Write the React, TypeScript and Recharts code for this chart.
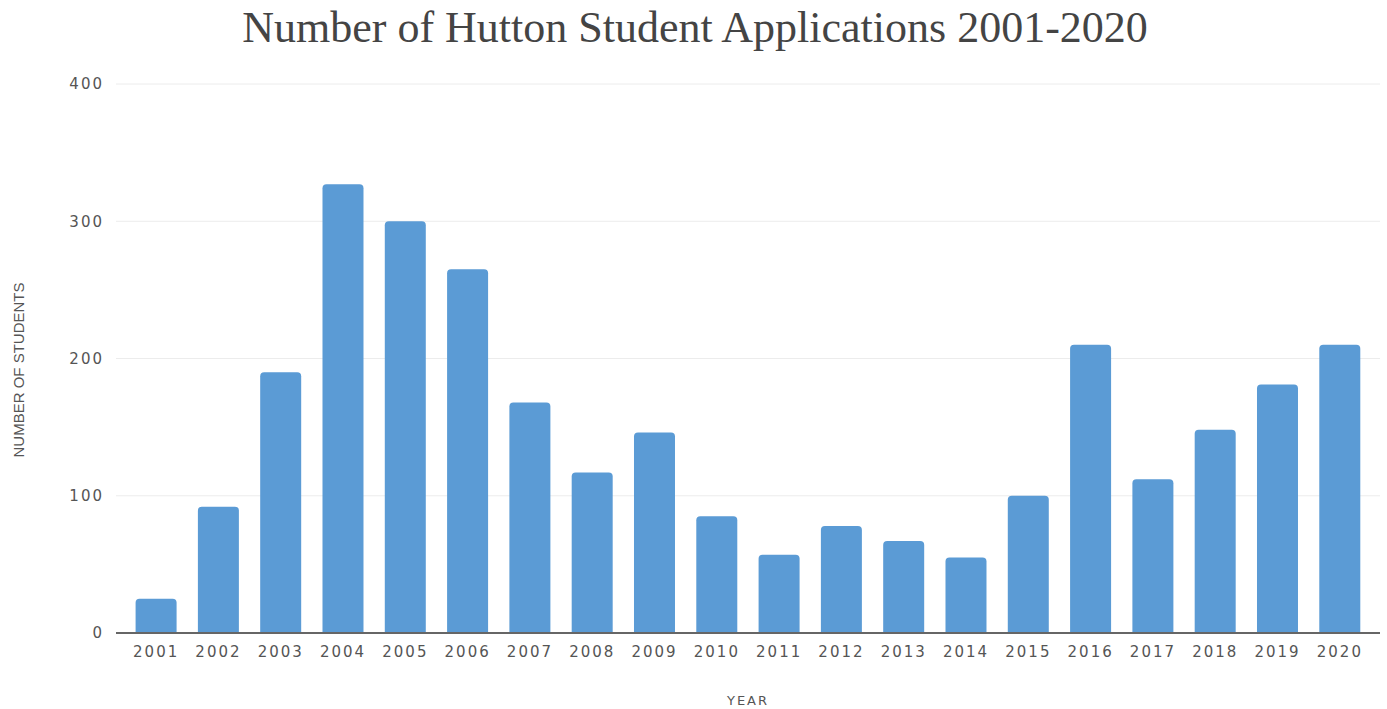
import React from "react"
import { BarChart, Bar, XAxis, YAxis, CartesianGrid } from "recharts"

const years = [
  "2001", "2002", "2003", "2004", "2005", "2006", "2007", "2008", "2009", "2010",
  "2011", "2012", "2013", "2014", "2015", "2016", "2017", "2018", "2019", "2020",
]
const students = [25, 92, 190, 327, 300, 265, 168, 117, 146, 85, 57, 78, 67, 55, 100, 210, 112, 148, 181, 210]
const yTicks = [0, 100, 200, 300, 400]

const data = years.map((year, i) => ({ year, students: students[i] }))

const tickStyle = { fill: "#555", fontSize: 15, fontFamily: "'DejaVu Sans', sans-serif", letterSpacing: 2 }

export default function App() {
  return (
    <div style={{ position: "relative", width: 1387, height: 709, background: "#fff" }}>
      <style>{`body{margin:0}`}</style>
      <div
        style={{
          position: "absolute",
          top: 4,
          left: 0,
          width: 1390,
          textAlign: "center",
          fontFamily: "'Liberation Serif', serif",
          fontSize: 44,
          color: "#444",
          lineHeight: "48px",
        }}
      >
        Number of Hutton Student Applications 2001-2020
      </div>
      <BarChart
        width={1387}
        height={709}
        data={data}
        margin={{ top: 84, right: 7, bottom: 0, left: 0 }}
        barCategoryGap="17%"
      >
        <CartesianGrid vertical={false} stroke="#ececec" />
        <XAxis
          dataKey="year"
          height={76}
          padding={{ left: 9, right: 9 }}
          axisLine={{ stroke: "#666", strokeWidth: 2 }}
          tickLine={false}
          tickMargin={7}
          tick={tickStyle}
          label={{
            value: "YEAR",
            position: "insideBottom",
            offset: 4,
            style: { fill: "#555", fontSize: 13, fontFamily: "'DejaVu Sans', sans-serif", letterSpacing: 2 },
          }}
        />
        <YAxis
          width={116}
          domain={[0, 400]}
          ticks={yTicks}
          axisLine={false}
          tickLine={false}
          tickMargin={6}
          tick={tickStyle}
          label={{
            content: () => (
              <text
                transform="translate(24,370) rotate(-90)"
                textAnchor="middle"
                fill="#555"
                fontSize={15}
                fontFamily="'Liberation Sans Narrow', sans-serif"
              >
                NUMBER OF STUDENTS
              </text>
            ),
          }}
        />
        <Bar dataKey="students" fill="#5b9bd5" radius={[4, 4, 0, 0]} isAnimationActive={false} />
      </BarChart>
    </div>
  )
}
